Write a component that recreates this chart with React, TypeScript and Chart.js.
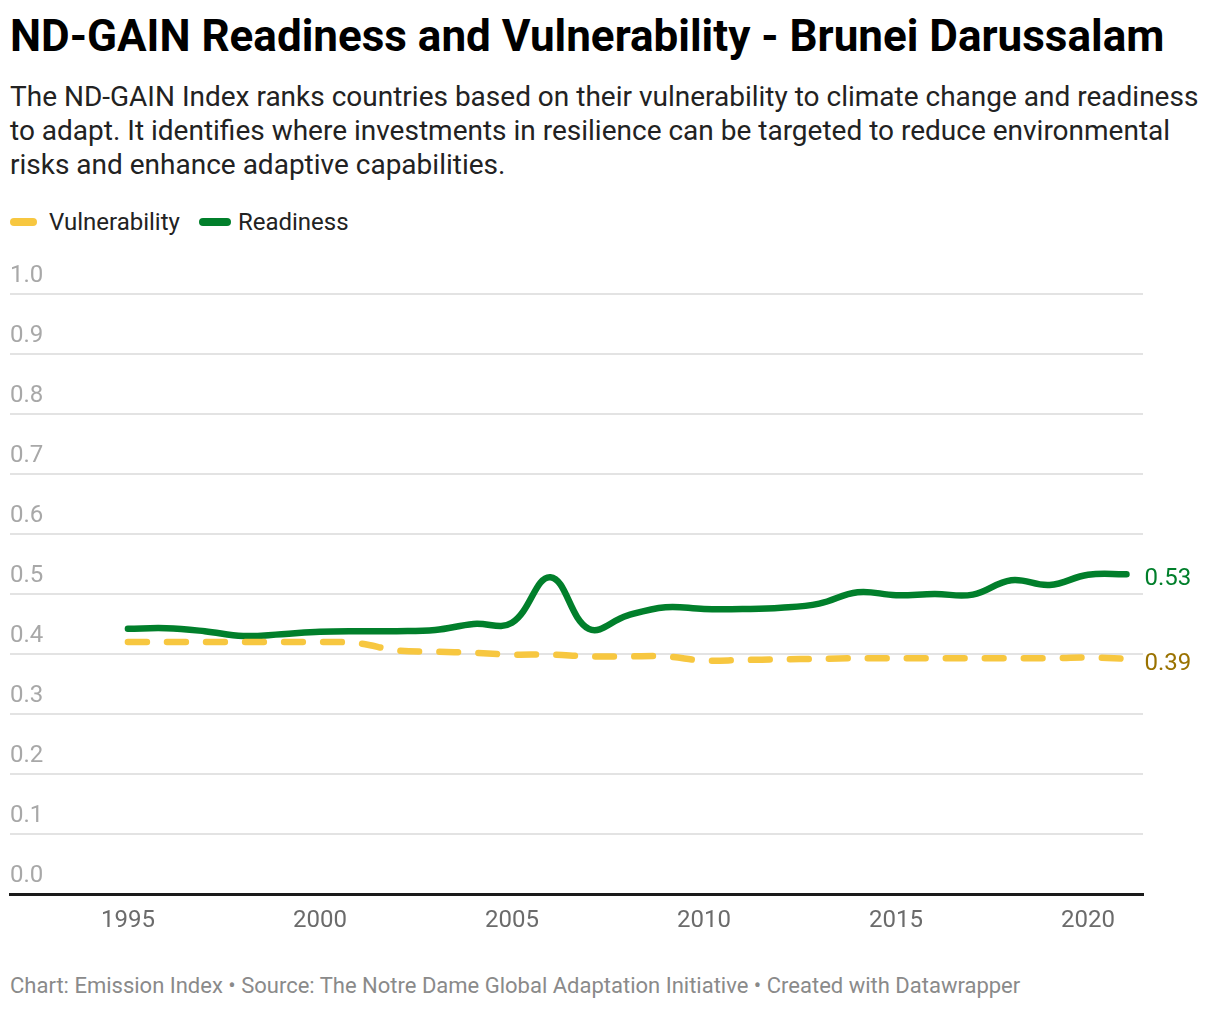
import React, { useEffect, useRef } from "react";
import { Chart, registerables } from "chart.js";

Chart.register(...registerables);

const years = [1995, 1996, 1997, 1998, 1999, 2000, 2001, 2002, 2003, 2004, 2005, 2006, 2007, 2008, 2009, 2010, 2011, 2012, 2013, 2014, 2015, 2016, 2017, 2018, 2019, 2020, 2021];
const readiness = [0.442, 0.443, 0.438, 0.430, 0.433, 0.437, 0.438, 0.438, 0.440, 0.450, 0.452, 0.528, 0.442, 0.464, 0.478, 0.475, 0.475, 0.477, 0.484, 0.503, 0.498, 0.500, 0.499, 0.523, 0.515, 0.532, 0.533];
const vulnerability = [0.420, 0.420, 0.420, 0.420, 0.420, 0.420, 0.418, 0.406, 0.404, 0.402, 0.399, 0.399, 0.396, 0.396, 0.396, 0.389, 0.390, 0.391, 0.392, 0.393, 0.393, 0.393, 0.393, 0.393, 0.393, 0.394, 0.392];
const xTicks = [1995, 2000, 2005, 2010, 2015, 2020];
const yTicks = [0, 0.1, 0.2, 0.3, 0.4, 0.5, 0.6, 0.7, 0.8, 0.9, 1.0];

const GREEN = "#017f2b";
const YELLOW = "#f7c740";
const YELLOW_LABEL = "#9a7200";
const FONT = "Roboto, 'Noto Sans', sans-serif";

const endLabels = {
  id: "endLabels",
  afterDatasetsDraw(chart: any) {
    const ctx = chart.ctx;
    chart.data.datasets.forEach((ds: any, i: number) => {
      const meta = chart.getDatasetMeta(i);
      const pts = meta.data;
      const last = pts[pts.length - 1];
      const v = ds.data[ds.data.length - 1].y;
      ctx.save();
      ctx.font = `24px ${FONT}`;
      ctx.fillStyle = ds.labelColor;
      ctx.textAlign = "left";
      ctx.textBaseline = "middle";
      ctx.fillText(v.toFixed(2), last.x + 18, last.y + 5);
      ctx.restore();
    });
  },
};

function LineChart() {
  const ref = useRef<HTMLCanvasElement>(null);
  useEffect(() => {
    if (!ref.current) return;
    const chart = new Chart(ref.current, {
      type: "line",
      data: {
        datasets: [
          {
            label: "Vulnerability",
            data: years.map((y, i) => ({ x: y, y: vulnerability[i] })),
            borderColor: YELLOW,
            borderWidth: 6.5,
            borderDash: [19, 20],
            borderCapStyle: "round",
            pointRadius: 0,
            tension: 0.4,
            fill: false,
            labelColor: YELLOW_LABEL,
          } as any,
          {
            label: "Readiness",
            data: years.map((y, i) => ({ x: y, y: readiness[i] })),
            borderColor: GREEN,
            borderWidth: 6.5,
            borderCapStyle: "round",
            borderJoinStyle: "round",
            pointRadius: 0,
            tension: 0.4,
            fill: false,
            labelColor: GREEN,
          } as any,
        ],
      },
      options: {
        animation: false,
        responsive: false,
        maintainAspectRatio: false,
        layout: { padding: { left: 10, right: 77, top: 44, bottom: 16 } },
        plugins: { legend: { display: false }, tooltip: { enabled: false } },
        scales: {
          x: {
            type: "linear",
            min: 1991.93,
            max: 2021.43,
            afterBuildTicks: (s: any) => {
              s.ticks = xTicks.map((v) => ({ value: v }));
            },
            afterFit: (s: any) => {
              s.height = 40;
            },
            grid: { display: true, color: "rgba(0,0,0,0)", drawTicks: false },
            border: { display: true, color: "#1a1a1a", width: 3 },
            ticks: {
              color: "#6b6b6b",
              font: { family: FONT, size: 24 },
              padding: 13,
              maxRotation: 0,
              callback: (v: any) => String(v),
            },
          },
          y: {
            type: "linear",
            min: 0,
            max: 1,
            afterBuildTicks: (s: any) => {
              s.ticks = yTicks.map((v) => ({ value: v }));
            },
            afterFit: (s: any) => {
              s.width = 0;
            },
            grid: {
              color: (c: any) => (c.tick && c.tick.value === 0 ? "rgba(0,0,0,0)" : "#e3e3e3"),
              lineWidth: 2,
              drawTicks: false,
            },
            border: { display: false },
            ticks: {
              mirror: true,
              padding: 0,
              labelOffset: -18,
              color: "#a8a8a8",
              font: { family: FONT, size: 24 },
              callback: (v: any) => Number(v).toFixed(1),
            },
          },
        },
      },
      plugins: [endLabels],
    });
    return () => chart.destroy();
  }, []);
  return <canvas ref={ref} width={1220} height={700} style={{ position: "absolute", left: 0, top: 250, width: 1220, height: 700 }} />;
}

export default function App() {
  const swatch = (color: string, w: number, mr: number) => ({
    display: "inline-block",
    width: w,
    height: 8,
    borderRadius: 4,
    background: color,
    marginRight: mr,
    verticalAlign: "middle",
  });
  return (
    <div style={{ position: "absolute", left: 0, top: 0, width: 1220, height: 1010, background: "#fff", fontFamily: FONT, overflow: "hidden" }}>
      <div style={{ position: "absolute", left: 10, top: 11, fontSize: 44, lineHeight: "50px", fontWeight: 700, color: "#000", whiteSpace: "nowrap" }}>
        ND-GAIN Readiness and Vulnerability - Brunei Darussalam
      </div>
      <div style={{ position: "absolute", left: 10, top: 80, fontSize: 28, lineHeight: "34px", color: "#222", whiteSpace: "nowrap" }}>
        <div>The ND-GAIN Index ranks countries based on their vulnerability to climate change and readiness</div>
        <div>to adapt. It identifies where investments in resilience can be targeted to reduce environmental</div>
        <div>risks and enhance adaptive capabilities.</div>
      </div>
      <div style={{ position: "absolute", left: 10, top: 206, height: 28, lineHeight: "28px", fontSize: 24, color: "#222", whiteSpace: "nowrap" }}>
        <span style={swatch(YELLOW, 27, 12)} />
        <span style={{ verticalAlign: "middle", marginRight: 19 }}>Vulnerability</span>
        <span style={swatch(GREEN, 32, 7)} />
        <span style={{ verticalAlign: "middle" }}>Readiness</span>
      </div>
      <LineChart />
      <div style={{ position: "absolute", left: 10, top: 974, fontSize: 22, lineHeight: "24px", color: "#8a8a8a", whiteSpace: "nowrap" }}>
        Chart: Emission Index • Source: The Notre Dame Global Adaptation Initiative • Created with Datawrapper
      </div>
    </div>
  );
}
